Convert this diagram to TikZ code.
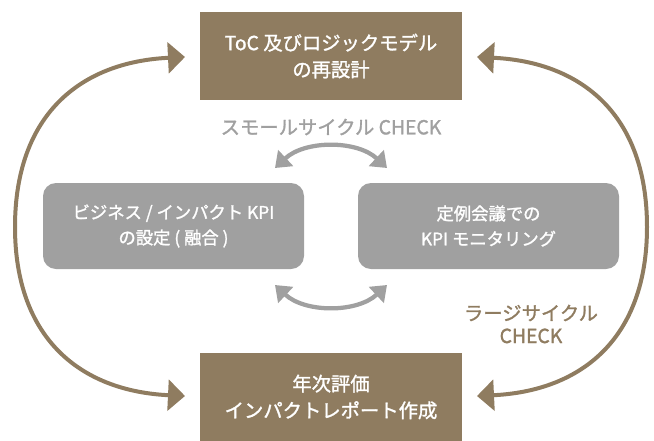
\documentclass[tikz,border=0pt]{standalone}
\usepackage{fontspec}
\setmainfont{Noto Sans CJK JP}[FakeBold=1.4,AutoFakeBold=1.4]
\usetikzlibrary{arrows.meta}

\definecolor{brownbox}{RGB}{143,124,96}
\definecolor{greybox}{RGB}{160,160,160}

\tikzset{every picture/.style={line width=0.75pt}}
\tikzset{
  stagebox/.style={fill=brownbox, text=white, minimum width=196.5pt, minimum height=66pt,
    inner sep=0pt, align=center, font=\fontsize{14.5}{20}\selectfont\bfseries},
  kpibox/.style={fill=greybox, text=white, rounded corners=9.75pt, minimum width=195.75pt,
    minimum height=64.5pt, inner sep=0pt, align=center, font=\fontsize{13}{19}\selectfont\bfseries},
  largecycle/.style={draw=brownbox, line width=3pt,
    {Triangle[length=12.75pt,width=23pt]}-{Triangle[length=12.75pt,width=23pt]}},
  smallcycle/.style={draw=greybox, line width=3.2pt,
    {Triangle[length=11pt,width=16pt]}-{Triangle[length=11pt,width=16pt]}},
}

\begin{document}
\begin{tikzpicture}[x=0.75pt,y=0.75pt,yscale=-1,xscale=1]
\path[use as bounding box] (0,0) rectangle (654,440);

%Shape: Rectangle
\node[stagebox] (plan) at (331,56) {ToC 及びロジックモデル\\の再設計};
%Shape: Rectangle
\node[stagebox] (report) at (331,397) {年次評価\\インパクトレポート作成};
%Shape: Rounded Rect
\node[kpibox] (kpiset) at (173.5,226) {ビジネス / インパクト KPI\\の設定 ( 融合 )};
%Shape: Rounded Rect
\node[kpibox] (monitor) at (488.5,226) {定例会議での\\KPI モニタリング};

% Text Node
\node[text=greybox, font=\fontsize{14.5}{20}\selectfont\bfseries] (smallcheck) at (331,127) {スモールサイクル CHECK};
% Text Node
\node[text=brownbox, align=center, font=\fontsize{14.5}{17}\selectfont\bfseries] (largecheck) at (531,324) {ラージサイクル\\CHECK};

\coordinate (lefttop) at (185,57);
\coordinate (leftmid) at (15,227);
\coordinate (leftbot) at (185,396);
\coordinate (righttop) at (477,57);
\coordinate (rightmid) at (647,227);
\coordinate (rightbot) at (477,396);

%Curve Lines
\draw[largecycle] (lefttop) .. controls (80,62) and (15,115) .. (leftmid) .. controls (15,338) and (80,391) .. (leftbot);
%Curve Lines
\draw[largecycle] (righttop) .. controls (582,62) and (647,115) .. (rightmid) .. controls (647,338) and (582,391) .. (rightbot);

\coordinate (smalltl) at (275,168);
\coordinate (smalltr) at (387,168);
\coordinate (smallbl) at (275,285);
\coordinate (smallbr) at (387,285);

%Curve Lines
\draw[smallcycle] (smalltl) .. controls (305,140) and (357,140) .. (smalltr);
%Curve Lines
\draw[smallcycle] (smallbl) .. controls (305,313) and (357,313) .. (smallbr);

\end{tikzpicture}
\end{document}
